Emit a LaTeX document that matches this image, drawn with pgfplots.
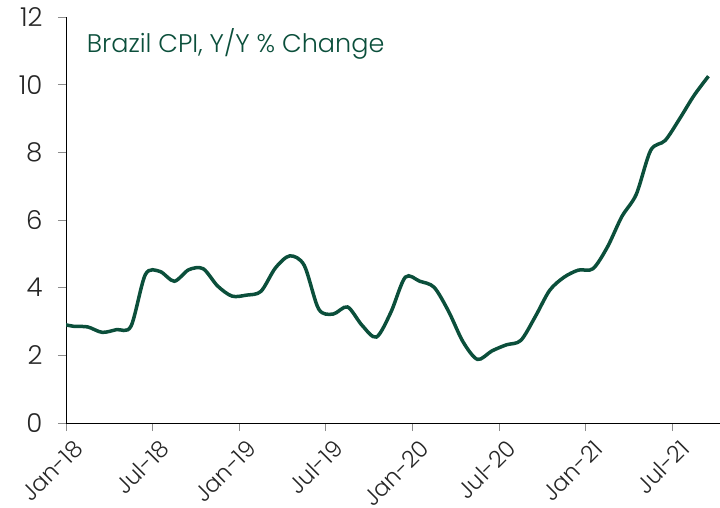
\documentclass[border=0pt]{standalone}
\usepackage{fontspec}
\setmainfont{Poppins Light}
\usepackage{pgfplots}
\pgfplotsset{compat=1.18}
\usepackage{pgfplotstable}
\definecolor{cpigreen}{HTML}{0B4F3B}
\definecolor{tickgrey}{HTML}{8C8C8C}
\definecolor{labgrey}{HTML}{262626}
\pgfplotstableread{
m v
-0.5 2.95
0.5 2.86
1.5 2.84
2.5 2.68
3.5 2.76
4.5 2.86
5.5 4.39
6.5 4.48
7.5 4.19
8.5 4.53
9.5 4.56
10.5 4.05
11.5 3.75
12.5 3.78
13.5 3.89
14.5 4.58
15.5 4.94
16.5 4.66
17.5 3.37
18.5 3.22
19.5 3.43
20.5 2.89
21.5 2.54
22.5 3.27
23.5 4.31
24.5 4.19
25.5 4.01
26.5 3.30
27.5 2.40
28.5 1.88
29.5 2.13
30.5 2.31
31.5 2.44
32.5 3.14
33.5 3.92
34.5 4.31
35.5 4.52
36.5 4.56
37.5 5.20
38.5 6.10
39.5 6.76
40.5 8.06
41.5 8.35
42.5 8.99
43.5 9.68
44.5 10.25
}\cpidata
\begin{document}
\begin{tikzpicture}
\begin{axis}[
  scale only axis,
  width=654pt, height=406pt,
  xmin=0, xmax=45.3,
  ymin=0, ymax=12,
  axis x line*=bottom, axis y line*=left,
  axis line style={black, line width=0.8pt},
  xtick={0,6,12,18,24,30,36,42},
  xticklabels={Jan-18,Jul-18,Jan-19,Jul-19,Jan-20,Jul-20,Jan-21,Jul-21},
  ytick={0,2,4,6,8,10,12},
  tick align=outside,
  major tick length=8pt,
  tick style={tickgrey, line width=0.8pt},
  /pgf/number format/assume math mode=true,
  ticklabel style={text=labgrey},
  x tick label style={font=\fontsize{23}{23}\selectfont, xshift=15pt, yshift=-11pt, rotate=45, anchor=east},
  y tick label style={font=\fontsize{26}{26}\selectfont, xshift=-12pt},
]
\addplot[cpigreen, line width=3.5pt, smooth, tension=0.5] table[x=m, y=v] {\cpidata};
\node[anchor=west, text=cpigreen, font=\fontsize{25.5}{28}\selectfont] at (axis cs:1.2,11.2) {Brazil CPI, Y/Y \% Change};
\coordinate (bl) at (rel axis cs:0,0);
\coordinate (tr) at (rel axis cs:1,1);
\end{axis}
\pgfresetboundingbox
\path ([shift={(-66pt,-84pt)}]bl) rectangle ([shift={(0pt,17pt)}]tr);
\end{tikzpicture}
\end{document}
